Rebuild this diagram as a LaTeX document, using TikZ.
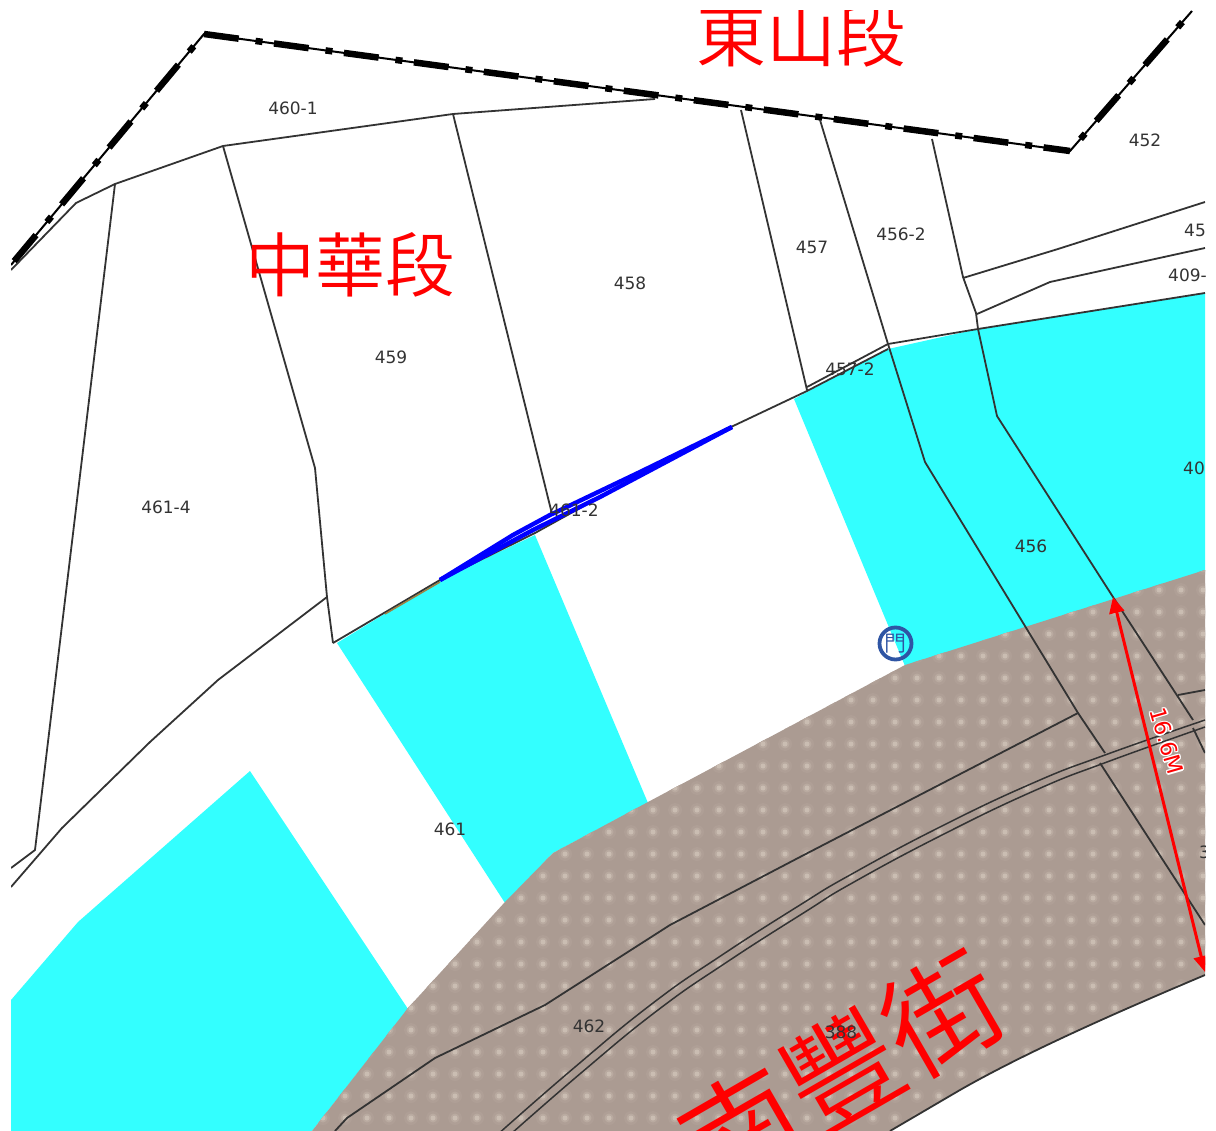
\documentclass[tikz,border=0pt]{standalone}
\usepackage{fontspec}
\setmainfont{DejaVu Sans}
\newfontfamily\cjkfont{Noto Sans CJK TC}[UprightFont=* DemiLight]
\usetikzlibrary{arrows.meta}
\definecolor{aqua}{HTML}{33FFFF}
\definecolor{roadbase}{HTML}{AB9B92}
\definecolor{roadout}{HTML}{AF9F96}
\definecolor{roadmid}{HTML}{B9AAA0}
\definecolor{roaddot}{HTML}{CABDB2}
\definecolor{parcelline}{HTML}{333333}
\definecolor{gateblue}{HTML}{2F55A4}
\definecolor{mapred}{HTML}{FF0000}
\tikzset{
  parcel/.style={draw=parcelline,line width=1.8pt,line join=round},
  sectionthin/.style={draw=black,line width=2pt},
  sectionthick/.style={draw=black,line width=6.5pt},
  lot/.style={text=parcelline,font=\fontsize{17}{17}\selectfont,inner sep=0pt},
  bigname/.style={text=mapred,font=\cjkfont\fontsize{70}{70}\selectfont,inner sep=0pt},
  roadname/.style={text=mapred,font=\cjkfont\fontsize{116}{116}\selectfont,inner sep=0pt,rotate=30},
  widthlabel/.style={font=\fontsize{22}{22}\selectfont,inner sep=0pt,rotate=-74},
}
\newcommand{\roadoutline}{(312,1131) -- (408,1008) -- (505,902) -- (553,853) -- (648,802) -- (905,665) -- (1025,627) -- (1205,570) -- (1205,975) .. controls (1127,1008) and (1030,1050) .. (960,1090) -- (890,1131) -- cycle}
\begin{document}
\begin{tikzpicture}[x=1pt,y=-1pt]
\useasboundingbox (0,0) rectangle (1216,1131);
\fill[white] (0,0) rectangle (1216,1131);
\begin{scope}
\clip (11,11) rectangle (1205,1131);
% cyan lots
\fill[aqua] (794,399) -- (888,349) -- (978,329) -- (1205,293) -- (1205,571) -- (905,666) -- cycle;
\fill[aqua] (337,643) -- (440,580) -- (535,535) -- (648,803) -- (553,853) -- (505,903) -- cycle;
\fill[aqua] (250,771) -- (408,1009) -- (312,1131) -- (11,1131) -- (11,1000) -- (78,922) -- cycle;
% road
\begin{scope}
\clip \roadoutline;
\fill[roadbase] (300,560) rectangle (1216,1131);
\foreach \i in {0,...,42} \foreach \j in {0,...,26} {
  \fill[roadout] (301+22*\i,568+22*\j) circle (7);
  \fill[roadmid] (301+22*\i,568+22*\j) circle (4.5);
  \fill[roaddot] (301+22*\i,568+22*\j) circle (2.5);
}
\end{scope}
% section boundary
\coordinate (sA) at (11,265);
\coordinate (sB) at (204,34);
\coordinate (sC) at (1070,151);
\coordinate (sD) at (1192,11);
\draw[sectionthin] (sA) -- (sB) -- (sC) -- (sD);
\draw[sectionthick,dash pattern=on 0pt off 16pt on 7pt off 17pt on 34pt off 0pt] (sB) -- (sA);
\draw[sectionthick,dash pattern=on 35pt off 17pt on 7pt off 11.6pt] (sB) -- (sC);
\draw[sectionthick,dash pattern=on 0pt off 16pt on 7pt off 17pt on 34pt off 0pt] (sC) -- (sD);
% parcel lines
\draw[parcel] (11,270) -- (76,203) -- (115,184) -- (223,146) -- (453,114) -- (655,99);
\draw[parcel] (115,184) -- (35,850) -- (11,868);
\draw[parcel] (223,146) -- (315,468) -- (327,597) -- (333,643);
\draw[parcel] (327,597) -- (218,680) -- (150,742) -- (62,828) -- (11,887);
\draw[parcel] (453,114) -- (552,514);
\draw[parcel] (741,110) -- (807,390);
\draw[parcel] (820,120) -- (888,344) -- (925,462) -- (1078,713) -- (1105,753);
\draw[parcel] (1100,763) -- (1205,925);
\draw[parcel] (932,139) -- (963,277) -- (976,313) -- (978,329) -- (997,416) -- (1113,597) -- (1193,720);
\draw[parcel] (1193,728) -- (1205,753);
\draw[parcel] (963,278) -- (1058,249) -- (1205,202);
\draw[parcel] (977,314) -- (1050,282) -- (1205,248);
\draw[parcel] (333,643) -- (440,580) -- (535,533) -- (600,497) -- (731,427) -- (807,391) -- (888,349);
\draw[parcel] (807,387) -- (888,344) -- (978,329) -- (1205,293);
\draw[parcel] (1178,695) -- (1205,690);
\draw[parcel] (1078,713) -- (800,857) -- (670,925) -- (545,1005) -- (435,1058) -- (347,1118) -- (335,1131);
\draw[parcel,line width=1.5pt] plot[smooth,tension=0.8] coordinates {(1205,720) (1105,755) (1033,783) (940,827) (850,875) (800,905) (722,955) (653,1003) (575,1067) (497,1135)};
\draw[parcel,line width=1.5pt] plot[smooth,tension=0.8] coordinates {(1205,727) (1107,762) (1036,790) (944,834) (854,882) (805,912) (727,962) (658,1010) (581,1073) (503,1141)};
\draw[parcel] (1205,975) .. controls (1127,1008) and (1030,1050) .. (960,1090) -- (890,1131);
% old line and blue strands
\draw[draw={rgb,255:red,160;green,128;blue,64},line width=1.5pt] (385,614) -- (440,582);
\draw[blue,line width=4.4pt] (440,580) -- (513,535) -- (550,515) -- (640,472) -- (732,427);
\draw[blue,line width=4.4pt] (440,580) -- (533,530) -- (600,497) -- (732,427);
% section names
\node[bigname] (nDongshan) at (801,35) {東山段};
\node[bigname] (nZhonghua) at (350,265) {中華段};
\node[roadname] (nNanfeng) at (842,1071) {南豐街};
% lot numbers
\node[lot] (l4601) at (293,108) {460-1};
\node[lot] (l452) at (1145,140) {452};
\node[lot] (l4562) at (901,234) {456-2};
\node[lot] (l457) at (812,247) {457};
\node[lot,anchor=west] (l45) at (1184,230) {45};
\node[lot,anchor=west] (l409) at (1168,275) {409-};
\node[lot] (l458) at (630,283) {458};
\node[lot] (l459) at (391,357) {459};
\node[lot] (l4572) at (850,369) {457-2};
\node[lot,anchor=west] (l40) at (1183,468) {40};
\node[lot] (l4614) at (166,507) {461-4};
\node[lot] (l4612) at (574,510) {461-2};
\node[lot] (l456) at (1031,546) {456};
\node[lot] (l461) at (450,829) {461};
\node[lot] (l462) at (589,1026) {462};
\node[lot] (l388) at (841,1032) {388};
\node[lot,anchor=west] (l3) at (1199,852) {3};
% width arrow
\coordinate (wA) at (1113,597);
\coordinate (wB) at (1205,972);
\draw[mapred,line width=3pt,{Triangle[length=16pt,width=15pt]}-{Triangle[length=16pt,width=15pt]}] (wA) -- (wB);
\foreach \a in {0,45,...,315} {
  \node[widthlabel,white] at ([shift={(\a:1.4)}]1167,741) {16.6M};
}
\node[widthlabel,text=mapred] (nWidth) at (1167,741) {16.6M};
% gate symbol
\node[circle,draw=gateblue,line width=3.8pt,minimum size=32pt,inner sep=0pt,text=gateblue,font=\cjkfont\fontsize{22}{22}\selectfont] (nGate) at (895.5,643.5) {門};
\end{scope}
\end{tikzpicture}
\end{document}
